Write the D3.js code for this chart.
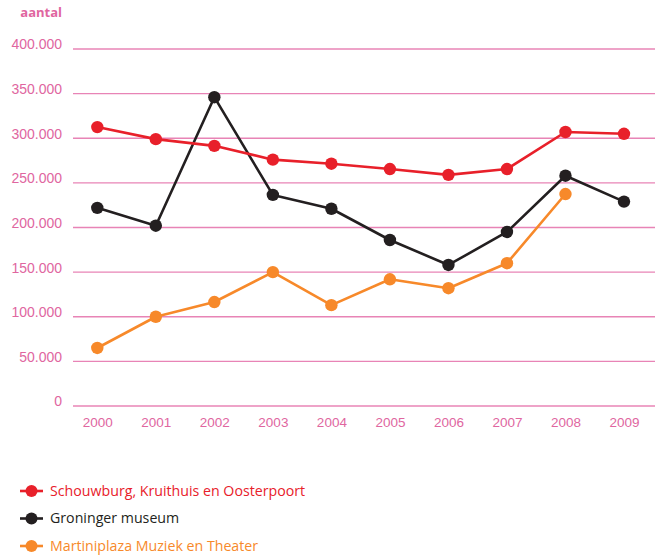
<!DOCTYPE html>
<html>
<head>
<meta charset="utf-8">
<script src="https://cdn.jsdelivr.net/npm/d3@7"></script>
<style>
  html, body { margin: 0; padding: 0; background: #fff; }
  svg { display: block; font-family: "Open Sans", "Liberation Sans", Arial, sans-serif; }
</style>
</head>
<body>
<svg id="chart" width="657" height="555"></svg>
<script>
// Bezoekersaantallen per jaar
const years = ["2000", "2001", "2002", "2003", "2004", "2005", "2006", "2007", "2008", "2009"];
const schouwburg = [312500, 299000, 291500, 276000, 271500, 265500, 259000, 265500, 307000, 305000];
const museum = [222000, 202000, 346000, 236500, 221000, 186000, 158000, 195000, 258000, 229000];
const martiniplaza = [65000, 100000, 116500, 150000, 113000, 142000, 132000, 160000, 237500, null];
const yTicks = [0, 50000, 100000, 150000, 200000, 250000, 300000, 350000, 400000];
const seriesNames = ["Schouwburg, Kruithuis en Oosterpoort", "Groninger museum", "Martiniplaza Muziek en Theater"];
const seriesColors = ["#e8202a", "#231f20", "#f7892a"];

const pink = "#e0669f";
const gridPink = "#e884b6";

const svg = d3.select("#chart");

const x = d3.scalePoint().domain(years).range([97.3, 624]);
const y = d3.scaleLinear().domain([0, 400000]).range([406, 49]);

const fmt = v => d3.format(",")(v).replace(/,/g, ".");

// horizontal grid lines
svg.append("g")
  .selectAll("line")
  .data(yTicks)
  .join("line")
  .attr("x1", 73).attr("x2", 655)
  .attr("y1", d => y(d)).attr("y2", d => y(d))
  .attr("stroke", gridPink)
  .attr("stroke-width", 1.3);

// y axis labels
const yAxis = d3.axisLeft(y).tickValues(yTicks).tickFormat(fmt).tickSize(0).tickPadding(0);
const yg = svg.append("g").attr("transform", "translate(62,-4.5)").call(yAxis);
yg.select(".domain").remove();
yg.selectAll("text")
  .attr("fill", pink)
  .style("font-size", "14px")
  .attr("x", 0);

// axis title
svg.append("text")
  .attr("x", 62).attr("y", 17)
  .attr("text-anchor", "end")
  .attr("fill", pink)
  .style("font-size", "13px")
  .style("font-weight", "bold")
  .text("aantal");

// x axis labels
const xAxis = d3.axisBottom(x).tickSize(0).tickPadding(0);
const xg = svg.append("g").attr("transform", "translate(0,417)").call(xAxis);
xg.select(".domain").remove();
xg.selectAll("text")
  .attr("fill", pink)
  .style("font-size", "13.5px");

// series lines and markers
const series = [schouwburg, museum, martiniplaza];
const drawOrder = [2, 1, 0];
const line = d3.line()
  .defined(d => d != null)
  .x((d, i) => x(years[i]))
  .y(d => y(d));

drawOrder.forEach(si => {
  const vals = series[si];
  const g = svg.append("g");
  g.append("path")
    .datum(vals)
    .attr("d", line)
    .attr("fill", "none")
    .attr("stroke", seriesColors[si])
    .attr("stroke-width", 2.6)
    .attr("stroke-linejoin", "round");
  g.selectAll("circle")
    .data(vals.map((v, i) => ({ v, i })).filter(d => d.v != null))
    .join("circle")
    .attr("cx", d => x(years[d.i]))
    .attr("cy", d => y(d.v))
    .attr("r", 6.2)
    .attr("fill", seriesColors[si]);
});

// legend
const legend = svg.append("g");
const legendY = [491, 518.5, 546];
seriesNames.forEach((name, i) => {
  const row = legend.append("g").attr("transform", `translate(0,${legendY[i]})`);
  row.append("line")
    .attr("x1", 20).attr("x2", 43)
    .attr("y1", 0).attr("y2", 0)
    .attr("stroke", seriesColors[i])
    .attr("stroke-width", 2.6);
  row.append("circle")
    .attr("cx", 31.5).attr("cy", 0).attr("r", 6)
    .attr("fill", seriesColors[i]);
  row.append("text")
    .attr("x", 50).attr("y", 0)
    .attr("dy", "0.35em")
    .attr("fill", seriesColors[i])
    .style("font-size", "14.2px")
    .text(name);
});
</script>
</body>
</html>
